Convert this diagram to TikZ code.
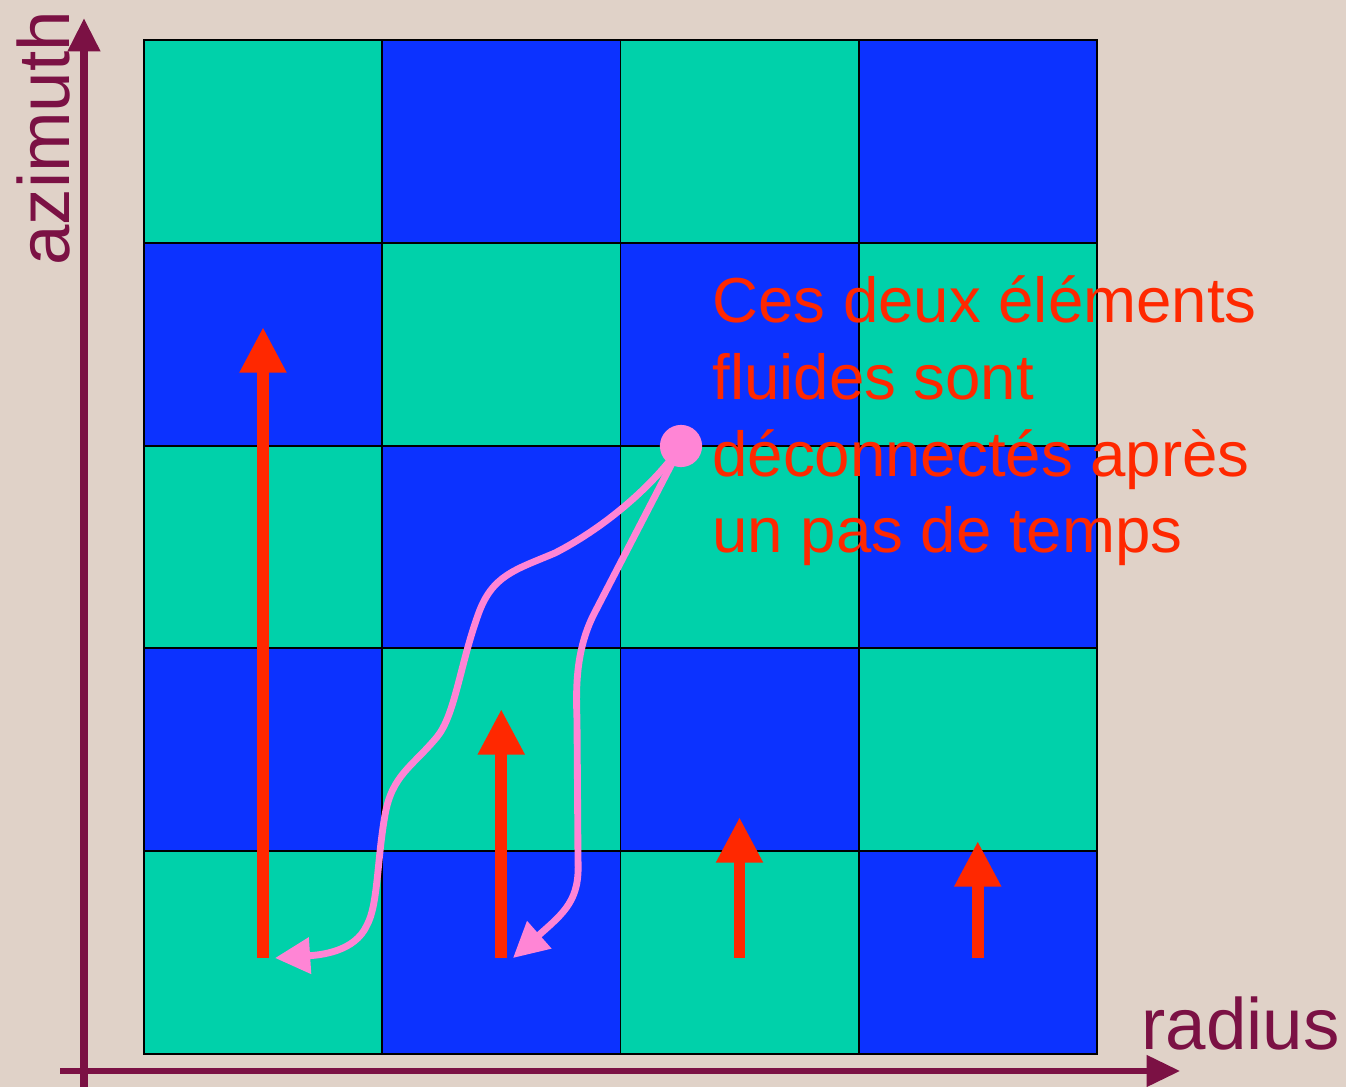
\documentclass[tikz,border=0pt]{standalone}
\usepackage{fontspec}
\setmainfont{Liberation Sans}
\usepackage{tikz}
\usetikzlibrary{positioning,arrows.meta}
\definecolor{bgsand}{RGB}{224,210,200}
\definecolor{axis}{RGB}{123,17,68}
\definecolor{cellteal}{RGB}{0,209,170}
\definecolor{cellblue}{RGB}{12,50,255}
\definecolor{velred}{RGB}{255,40,0}
\definecolor{fluidpink}{RGB}{255,133,213}

\begin{document}
\begin{tikzpicture}[
    x=0.02cm, y=-0.02cm,
    axisline/.style={draw=axis, line width=4.5pt, -{Triangle[length=19pt, width=17.5pt]}},
    axislabel/.style={text=axis, font=\fontsize{41.4}{48}\selectfont, inner sep=0},
    cell/.style={draw=black, line width=1.1pt},
    vel/.style={draw=velred, line width=6.8pt, -{Triangle[length=26pt, width=25pt]}},
    path/.style={draw=fluidpink, line width=3.9pt, -{Triangle[length=20pt, width=20pt]}},
    drop/.style={circle, fill=fluidpink, minimum size=24pt, inner sep=0},
    note/.style={text=velred, font=\fontsize{36.2}{43.7}\selectfont, align=left, inner sep=0}
]
    % Frame
    \fill[bgsand] (0,0) rectangle (1346,1087);
    \useasboundingbox (0,0) rectangle (1346,1087);

    % Grid of cells
    \foreach \i in {0,...,3}
      \foreach \j in {0,...,4} {
        \pgfmathtruncatemacro\cellparity{mod(\i+\j,2)}
        \ifnum\cellparity=0
          \filldraw[cell, fill=cellteal] (144+238.25*\i,40+202.8*\j) rectangle ++(238.25,202.8);
        \else
          \filldraw[cell, fill=cellblue] (144+238.25*\i,40+202.8*\j) rectangle ++(238.25,202.8);
        \fi
      }

    % Axes
    \coordinate (ybot) at (84,1087);
    \coordinate (ytop) at (84,18);
    \coordinate (xleft) at (60,1071);
    \coordinate (xright) at (1180,1071);
    \draw[axisline] (ybot) -- (ytop);
    \draw[axisline, line width=3pt] (xleft) -- (xright);
    \node[axislabel, rotate=90, anchor=base west] (azim) at (70,266) {azimuth};
    \node[axislabel, anchor=base west] (rad) at (1141,1049) {radius};

    % Velocity arrows
    \foreach \c/\t in {0/327, 1/709, 2/817, 3/841} {
        \coordinate (v\c b) at (263+238.25*\c,958);
        \coordinate (v\c t) at (263+238.25*\c,\t);
        \draw[vel] (v\c b) -- (v\c t);
    }

    % Fluid element paths
    \coordinate (src) at (681,446);
    \coordinate (end1) at (275,958);
    \coordinate (end2) at (513,958);
    \draw[path] (src) .. controls (650,490) and (600,530) .. (555,553)
        .. controls (515,570) and (492,575) .. (478,615)
        .. controls (460,665) and (455,715) .. (437,737)
        .. controls (412,767) and (392,775) .. (385,815)
        .. controls (377,860) and (378,905) .. (367,925)
        .. controls (355,952) and (320,955) .. (end1);
    \draw[path] (src) -- (595,612)
        .. controls (575,650) and (576,690) .. (577,720)
        -- (578,860)
        .. controls (580,900) and (565,912) .. (end2);
    \node[drop] (elem) at (src) {};

    % Comment text
    \node[note, anchor=base west] (msg) at (712,553) {Ces deux éléments\\fluides sont\\déconnectés après\\un pas de temps};
\end{tikzpicture}
\end{document}
